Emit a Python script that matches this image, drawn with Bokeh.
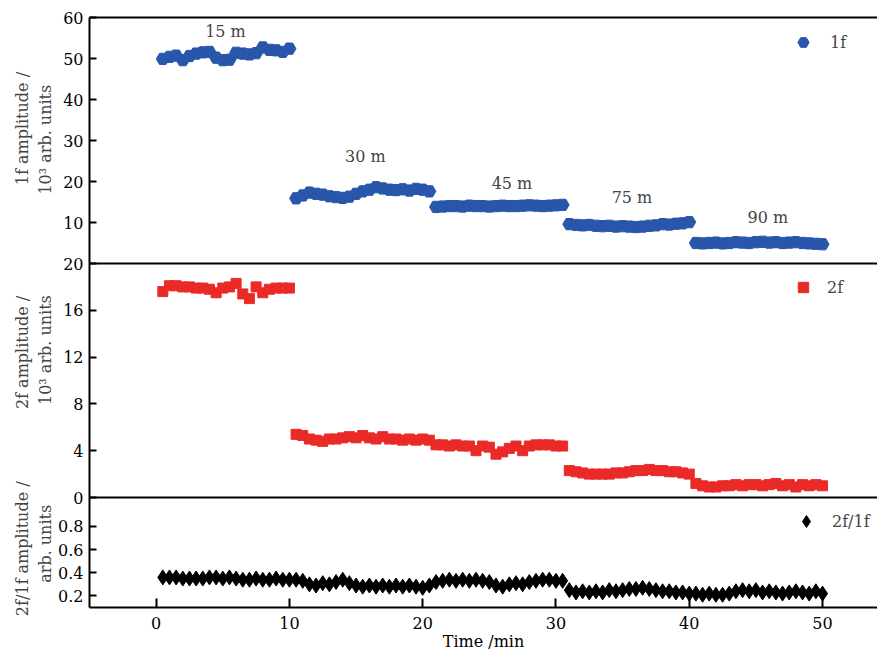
from math import pi
from bokeh.plotting import figure
from bokeh.models import (Range1d, LinearAxis, FixedTicker, Label,
                          Legend, LegendItem)
from bokeh.embed import file_html
from bokeh.resources import INLINE

# ---------------- data ----------------
time_min = [0.5, 1.0, 1.5, 2.0, 2.5, 3.0, 3.5, 4.0, 4.5, 5.0,
            5.5, 6.0, 6.5, 7.0, 7.5, 8.0, 8.5, 9.0, 9.5, 10.0,
            10.5, 11.0, 11.5, 12.0, 12.5, 13.0, 13.5, 14.0, 14.5, 15.0,
            15.5, 16.0, 16.5, 17.0, 17.5, 18.0, 18.5, 19.0, 19.5, 20.0,
            20.5, 21.0, 21.5, 22.0, 22.5, 23.0, 23.5, 24.0, 24.5, 25.0,
            25.5, 26.0, 26.5, 27.0, 27.5, 28.0, 28.5, 29.0, 29.5, 30.0,
            30.5, 31.0, 31.5, 32.0, 32.5, 33.0, 33.5, 34.0, 34.5, 35.0,
            35.5, 36.0, 36.5, 37.0, 37.5, 38.0, 38.5, 39.0, 39.5, 40.0,
            40.5, 41.0, 41.5, 42.0, 42.5, 43.0, 43.5, 44.0, 44.5, 45.0,
            45.5, 46.0, 46.5, 47.0, 47.5, 48.0, 48.5, 49.0, 49.5, 50.0]

amp_1f = [49.9, 50.4, 50.7, 49.6, 50.6, 51.2, 51.5, 51.6, 50.2, 49.6,
          49.7, 51.4, 51.2, 51.0, 51.3, 52.7, 52.1, 52.0, 51.6, 52.4,
          15.9, 16.6, 17.3, 17.0, 16.8, 16.4, 16.2, 16.0, 16.3, 17.0,
          17.6, 18.0, 18.6, 18.3, 18.0, 17.9, 18.1, 17.8, 18.2, 18.0,
          17.6,
          13.8, 13.9, 14.0, 14.0, 13.9, 14.1, 14.0, 14.0, 13.9, 14.0,
          14.1, 14.0, 14.0, 14.1, 14.2, 14.1, 14.0, 14.1, 14.2, 14.3,
          9.6, 9.4, 9.3, 9.4, 9.2, 9.1, 9.2, 9.0, 9.1, 9.0,
          8.9, 9.0, 9.2, 9.3, 9.6, 9.5, 9.7, 9.8, 10.1,
          5.0, 4.9, 5.0, 5.1, 4.9, 5.0, 5.2, 5.1, 5.0, 5.2,
          5.3, 5.1, 5.2, 5.0, 5.1, 5.2, 5.0, 4.9, 4.8, 4.7]

amp_2f = [17.6, 18.1, 18.1, 18.0, 18.0, 17.9, 17.9, 17.8, 17.5, 17.9,
          18.0, 18.3, 17.4, 17.0, 18.0, 17.5, 17.8, 17.9, 17.9, 17.9,
          5.4, 5.3, 5.0, 4.9, 4.8, 5.0, 5.0, 5.1, 5.2, 5.1,
          5.3, 5.1, 5.0, 5.2, 5.0, 5.0, 4.9, 5.0, 4.9, 5.0,
          4.9,
          4.5, 4.5, 4.4, 4.5, 4.4, 4.4, 4.0, 4.4, 4.3, 3.7,
          3.9, 4.2, 4.4, 4.0, 4.4, 4.5, 4.5, 4.5, 4.4, 4.4,
          2.3, 2.2, 2.1, 2.0, 2.0, 2.0, 2.0, 2.1, 2.1, 2.2,
          2.3, 2.3, 2.4, 2.3, 2.3, 2.2, 2.2, 2.1, 2.0,
          1.2, 1.0, 0.9, 0.9, 1.0, 1.0, 1.1, 1.0, 1.1, 1.1,
          1.0, 1.1, 1.2, 1.0, 1.1, 0.9, 1.1, 1.0, 1.1, 1.0]

ratio_2f_1f = [0.36, 0.36, 0.36, 0.35, 0.35, 0.35, 0.35, 0.36, 0.36, 0.35,
               0.36, 0.35, 0.34, 0.34, 0.35, 0.34, 0.34, 0.35, 0.34, 0.34,
               0.34, 0.33, 0.30, 0.29, 0.31, 0.30, 0.32, 0.34, 0.31, 0.29,
               0.28, 0.29, 0.28, 0.29, 0.28, 0.29, 0.28, 0.29, 0.28, 0.27,
               0.29,
               0.32, 0.33, 0.34, 0.33, 0.34, 0.33, 0.34, 0.33, 0.32, 0.29,
               0.28, 0.30, 0.31, 0.30, 0.32, 0.33, 0.34, 0.34, 0.33, 0.33,
               0.25, 0.23, 0.24, 0.23, 0.24, 0.23, 0.25, 0.24, 0.25, 0.26,
               0.26, 0.27, 0.26, 0.25, 0.24, 0.24, 0.23, 0.23, 0.22,
               0.22, 0.21, 0.22, 0.21, 0.21, 0.22, 0.24, 0.25, 0.24, 0.25,
               0.23, 0.24, 0.23, 0.22, 0.23, 0.24, 0.23, 0.22, 0.24, 0.22]

distance_labels = ["15 m", "30 m", "45 m", "75 m", "90 m"]
x_ticks = [0, 10, 20, 30, 40, 50]
ticks_1f = [10, 20, 30, 40, 50, 60]
ticks_2f = [0, 4, 8, 12, 16, 20]
ticks_ratio = [0.2, 0.4, 0.6, 0.8]

# ---------------- layout / style ----------------
FONT = "DejaVu Serif"
FS = "16px"
BLUE = "#2856ab"
RED = "#ea2a27"

W, H = 877, 653
LEFT_PX, TOP_PX = 89, 17          # where the plotting box starts
BOX_W = 789
panel_px = [246, 234, 110]        # heights of the three stacked panels
panel_lim = [(0, 60), (0, 20), (0.1, 1.05)]
X0, X1 = -5, 54.2                 # visible part of the time axis
X_END = 55                        # nominal end of the (cropped) time axis
BOTTOM_PX = H - TOP_PX - sum(panel_px)

ppx = BOX_W / (X1 - X0)
x_range = Range1d(X0 - LEFT_PX / ppx, X1 + (W - LEFT_PX - BOX_W) / ppx)


def panel_range(i):
    lo, hi = panel_lim[i]
    upp = (hi - lo) / panel_px[i]
    above = TOP_PX + sum(panel_px[:i])
    below = BOTTOM_PX + sum(panel_px[i + 1:])
    return Range1d(lo - below * upp, hi + above * upp)


p = figure(width=W, height=H, output_backend="svg", toolbar_location=None,
           x_range=x_range, y_range=panel_range(0),
           x_axis_location=None, y_axis_location=None,
           min_border=0, outline_line_color=None,
           background_fill_color="white", border_fill_color="white")
p.extra_y_ranges = {"b": panel_range(1), "c": panel_range(2)}
p.grid.visible = False
range_names = ["default", "b", "c"]


def style_axis(ax):
    ax.axis_line_width = 2
    ax.axis_line_color = "black"
    ax.major_tick_line_width = 2
    ax.major_tick_out = 0
    ax.major_label_text_font = FONT
    ax.major_label_text_font_size = FS
    ax.major_label_text_color = "black"
    return ax


# bottom time axis
xa = style_axis(LinearAxis(y_range_name="c", fixed_location=panel_lim[2][0],
                           bounds=(X0, X_END), ticker=FixedTicker(ticks=x_ticks)))
xa.major_tick_in = 9
xa.major_label_standoff = 9
xa.axis_label = "Time /min"
xa.axis_label_text_font = FONT
xa.axis_label_text_font_size = FS
xa.axis_label_text_font_style = "normal"
xa.axis_label_text_color = "black"
xa.axis_label_standoff = 0
p.add_layout(xa, "below")

# top border and panel separators (axes without ticks)
for name, loc in [("default", panel_lim[0][1]), ("default", panel_lim[0][0]),
                  ("b", panel_lim[1][0])]:
    sep = style_axis(LinearAxis(y_range_name=name, fixed_location=loc,
                                bounds=(X0, X_END), ticker=FixedTicker(ticks=[])))
    sep.major_tick_in = 0
    p.add_layout(sep, "above")

# left axes, one per panel
for i, ticks in enumerate([ticks_1f, ticks_2f, ticks_ratio]):
    ax = style_axis(LinearAxis(y_range_name=range_names[i], fixed_location=X0,
                               bounds=panel_lim[i],
                               ticker=FixedTicker(ticks=ticks)))
    ax.major_tick_in = 7
    ax.major_label_standoff = 6
    p.add_layout(ax, "left")

# data
r1 = p.scatter(time_min, amp_1f, marker="hex", size=13, color=BLUE)
r2 = p.scatter(time_min, amp_2f, marker="square", size=10, color=RED,
               y_range_name="b")
r3 = p.scatter(time_min, ratio_2f_1f, marker="diamond", size=15,
               color="black", y_range_name="c")

# legends: (renderer, label, marker centre in px from top-left, glyph box, text x)
for r, lab, (cx, cy), box, tx in [(r1, "1f", (803, 42), 28, 830),
                                  (r2, "2f", (803, 287), 26, 827),
                                  (r3, "2f/1f", (806, 521), 30, 832)]:
    half = box / 2
    lg = Legend(items=[LegendItem(label=lab, renderers=[r])],
                location=(cx - half, H - (cy + half)),
                padding=0, margin=0, border_line_color=None,
                background_fill_alpha=0, glyph_width=box, glyph_height=box,
                label_standoff=int(tx - (cx + half)), label_text_font=FONT,
                label_text_font_size=FS)
    p.add_layout(lg)

# distance annotations (top panel)
label_pos = [(5.2, 56.6), (15.7, 26.1), (26.7, 19.6), (35.7, 16.2), (45.9, 11.3)]
for txt, (lx, ly) in zip(distance_labels, label_pos):
    p.add_layout(Label(x=lx, y=ly, text=txt, text_align="center",
                       text_baseline="middle", text_font=FONT,
                       text_font_size=FS))

# y axis titles (two lines each, rotated)
titles = [("default", "1f amplitude /", "10³ arb. units", 32.9, 30.2),
          ("b", "2f amplitude /", "10³ arb. units", 12.4, 12.6),
          ("c", "2f/1f amplitude /", "arb. units", 0.607, 0.65)]
for name, l1, l2, y1, y2 in titles:
    p.add_layout(Label(x=-10.0, y=y1, y_range_name=name, text=l1, angle=pi / 2,
                       text_align="center", text_baseline="middle",
                       text_font=FONT, text_font_size=FS))
    p.add_layout(Label(x=-8.3, y=y2, y_range_name=name, text=l2, angle=pi / 2,
                       text_align="center", text_baseline="middle",
                       text_font=FONT, text_font_size=FS))

open("out.html", "w").write(file_html(p, INLINE))
